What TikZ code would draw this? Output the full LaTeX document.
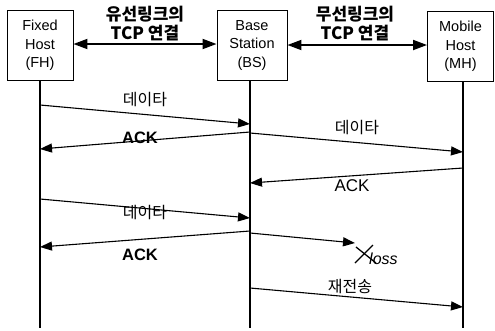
\documentclass[tikz,border=0pt]{standalone}
\usepackage{fontspec}
\setmainfont{Liberation Sans}
\newfontfamily\kr{Noto Sans CJK KR}
\newfontfamily\krlight{Noto Sans CJK KR Light}
\usetikzlibrary{arrows.meta}

\begin{document}
\begin{tikzpicture}[x=1pt,y=-1pt,
  hostbox/.style={draw,line width=0.9pt,minimum width=66pt,minimum height=70pt,
    align=center,font=\fontsize{14.5}{18.5}\selectfont,inner sep=0pt},
  life/.style={line width=1.1pt},
  msg/.style={line width=1.1pt,-{Triangle[length=12pt,width=9pt]}},
  link/.style={line width=1.8pt,{Triangle[length=14pt,width=10pt]}-{Triangle[length=14pt,width=10pt]}},
  hdr/.style={font=\kr\bfseries\fontsize{17}{19}\selectfont,align=center,inner sep=0pt},
  krlbl/.style={font=\kr\fontsize{16}{16}\selectfont,inner sep=0pt},
  acklbl/.style={font=\fontsize{17}{18}\selectfont,inner sep=0pt},
  ackbold/.style={font=\bfseries\fontsize{16.5}{18}\selectfont,inner sep=0pt}]
\useasboundingbox (0,0) rectangle (495,330);

% hosts
\node[hostbox] (fh) at (40,45.5) {Fixed\\Host\\(FH)};
\node[hostbox,minimum width=70pt] (bs) at (252,45.5) {Base\\Station\\(BS)};
\node[hostbox] (mh) at (460.5,46.5) {Mobile\\Host\\(MH)};

% lifelines
\coordinate (fhend) at (40,328);
\coordinate (bsend) at (250,328);
\coordinate (mhend) at (463,328);
\draw[life] (fh.south -| fhend) -- (fhend);
\draw[life] (bs.south -| bsend) -- (bsend);
\draw[life] (mh.south -| mhend) -- (mhend);

% TCP connections
\draw[link] (fh.east |- 0,44) -- (bs.west |- 0,44);
\draw[link] (bs.east |- 0,45) -- (mh.west |- 0,45);
\node[hdr] (wired) at (145,24) {유선링크의\\TCP 연결};
\node[hdr] (wireless) at (355,24) {무선링크의\\TCP 연결};

% message end points
\coordinate (f1) at (40,105);   \coordinate (b1) at (250,124);
\coordinate (b2) at (250,132);  \coordinate (f2) at (40,149);
\coordinate (b3) at (250,133);  \coordinate (m3) at (463,152);
\coordinate (m4) at (463,168);  \coordinate (b4) at (250,183);
\coordinate (f5) at (40,199);   \coordinate (b5) at (250,218);
\coordinate (b6) at (250,231);  \coordinate (f6) at (40,247);
\coordinate (b7) at (250,233);  \coordinate (lost) at (355,243);
\coordinate (b8) at (250,288);  \coordinate (m8) at (463,307);

% messages
\draw[msg] (f1) -- (b1);
\node[krlbl] (d1) at (145,100) {데이타};
\draw[msg] (b2) -- (f2);
\node[ackbold] (a1) at (140,138) {ACK};
\draw[msg] (b3) -- (m3);
\node[krlbl] (d2) at (357,128) {데이타};
\draw[msg] (m4) -- (b4);
\node[acklbl] (a2) at (352,186) {ACK};
\draw[msg] (f5) -- (b5);
\node[krlbl] (d3) at (145,213) {데이타};
\draw[msg] (b6) -- (f6);
\node[ackbold] (a3) at (140,255) {ACK};
\draw[msg] (b7) -- (lost);

% lost packet
\coordinate (x1) at (355,263);  \coordinate (x2) at (373,245);
\coordinate (x3) at (356,247);  \coordinate (x4) at (376,263);
\draw[line width=1.3pt] (x1) -- (x2);
\draw[line width=1.3pt] (x3) -- (x4);
\node[font=\itshape\fontsize{16}{17}\selectfont,inner sep=0pt,anchor=west] (loss) at (369,259) {loss};

\draw[msg] (b8) -- (m8);
\node[krlbl] (re) at (350,287) {재전송};
\end{tikzpicture}
\end{document}
